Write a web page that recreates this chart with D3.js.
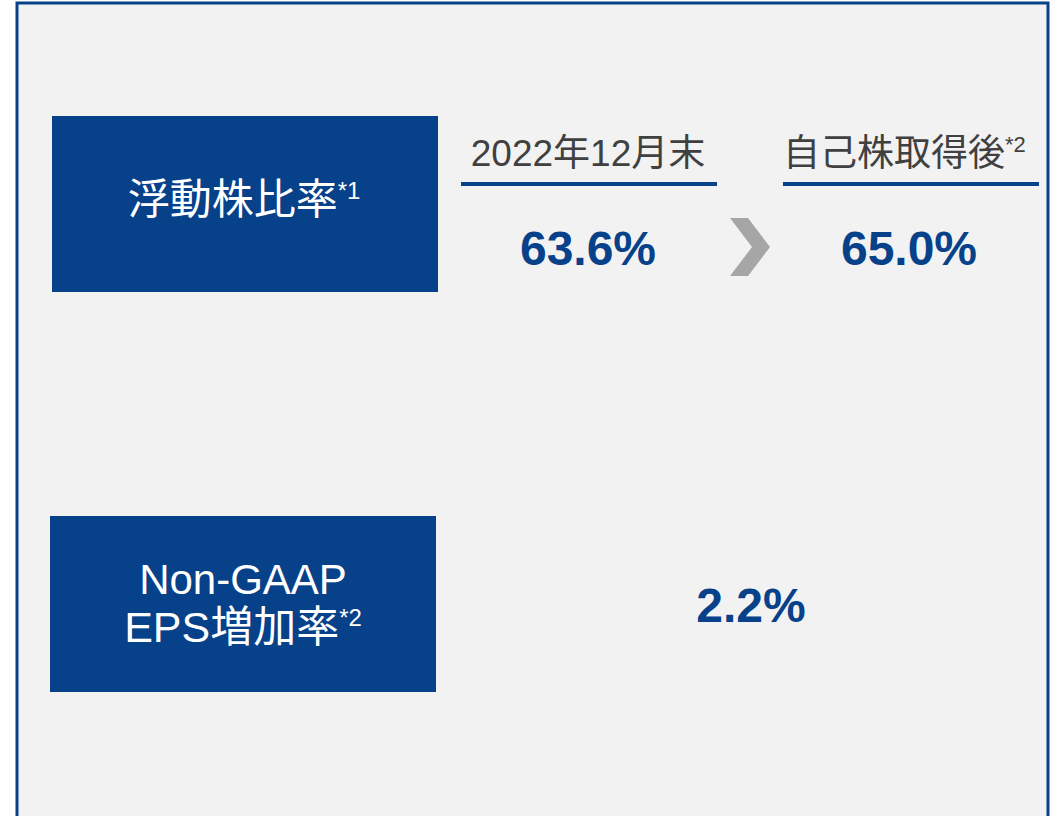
<!DOCTYPE html>
<html><head><meta charset="utf-8">
<script src="https://cdn.jsdelivr.net/npm/d3@7"></script>
<style>body{margin:0;background:#fff}svg{display:block}</style>
</head><body>
<script>
const rowLabels = [["浮動株比率", "*1"], ["Non-GAAP", "EPS増加率", "*2"]];
const columnHeaders = ["2022年12月末", "自己株取得後"];
const headerNotes = ["", "*2"];
const floatRatioValues = [63.6, 65.0];
const epsIncreaseValues = [2.2];

const W = 1058, H = 816;
const blue = "#06418A", bg = "#F2F2F2", gray = "#404040", arrowGray = "#A6A6A6";
const latin = "'Liberation Sans', Arial, 'Noto Sans CJK JP', sans-serif";

const svg = d3.select("body").append("svg").attr("width", W).attr("height", H);
svg.append("rect").attr("x", 17).attr("y", 3).attr("width", 1031).attr("height", 830)
  .attr("fill", bg).attr("stroke", blue).attr("stroke-width", 3);

const colX = d3.scalePoint().domain(columnHeaders).range([588, 909]);
const fmt = d3.format(".1f");

// row label boxes
const boxes = [{x: 52, y: 116}, {x: 50, y: 516}];
boxes.forEach((b, i) => {
  svg.append("rect").attr("x", b.x).attr("y", b.y).attr("width", 386).attr("height", 176).attr("fill", blue);
});
// box 1 text
{
  const t = svg.append("text").attr("x", 244).attr("y", 214).attr("text-anchor", "middle")
    .attr("fill", "#fff").attr("font-family", latin).attr("font-size", 42);
  t.append("tspan").text(rowLabels[0][0]);
  t.append("tspan").attr("font-size", 24).attr("dy", -15).text(rowLabels[0][1]);
}
{
  svg.append("text").attr("x", 243).attr("y", 594).attr("text-anchor", "middle")
    .attr("fill", "#fff").attr("font-family", latin).attr("font-size", 42).text(rowLabels[1][0]);
  const t = svg.append("text").attr("x", 243).attr("y", 642).attr("text-anchor", "middle")
    .attr("fill", "#fff").attr("font-family", latin).attr("font-size", 43);
  t.append("tspan").text(rowLabels[1][1]);
  t.append("tspan").attr("font-size", 24).attr("dy", -16).text(rowLabels[1][2]);
}

// column headers
const uw = [256, 256];
const ux = [461, 783];
columnHeaders.forEach((h, i) => {
  const t = svg.append("text").attr("x", i === 0 ? colX(h) : ux[i]).attr("y", 166)
    .attr("text-anchor", i === 0 ? "middle" : "start")
    .attr("fill", gray).attr("font-family", latin).attr("font-size", 37);
  t.append("tspan").text(h);
  if (headerNotes[i]) t.append("tspan").attr("font-size", 22).attr("dy", -14).text(headerNotes[i]);
  svg.append("line").attr("x1", ux[i]).attr("x2", ux[i] + uw[i]).attr("y1", 184).attr("y2", 184)
    .attr("stroke", blue).attr("stroke-width", 4);
});

// values
floatRatioValues.forEach((v, i) => {
  svg.append("text").attr("x", colX(columnHeaders[i])).attr("y", 265).attr("text-anchor", "middle")
    .attr("fill", blue).attr("font-family", latin).attr("font-weight", "bold").attr("font-size", 48)
    .text(fmt(v) + "%");
});
// chevron
svg.append("path").attr("d", "M730,218 L748,218 L770,247 L748,276 L730,276 L752,247 Z").attr("fill", arrowGray);

epsIncreaseValues.forEach(v => {
  svg.append("text").attr("x", 751).attr("y", 622).attr("text-anchor", "middle")
    .attr("fill", blue).attr("font-family", latin).attr("font-weight", "bold").attr("font-size", 48)
    .text(fmt(v) + "%");
});
</script>
</body></html>
